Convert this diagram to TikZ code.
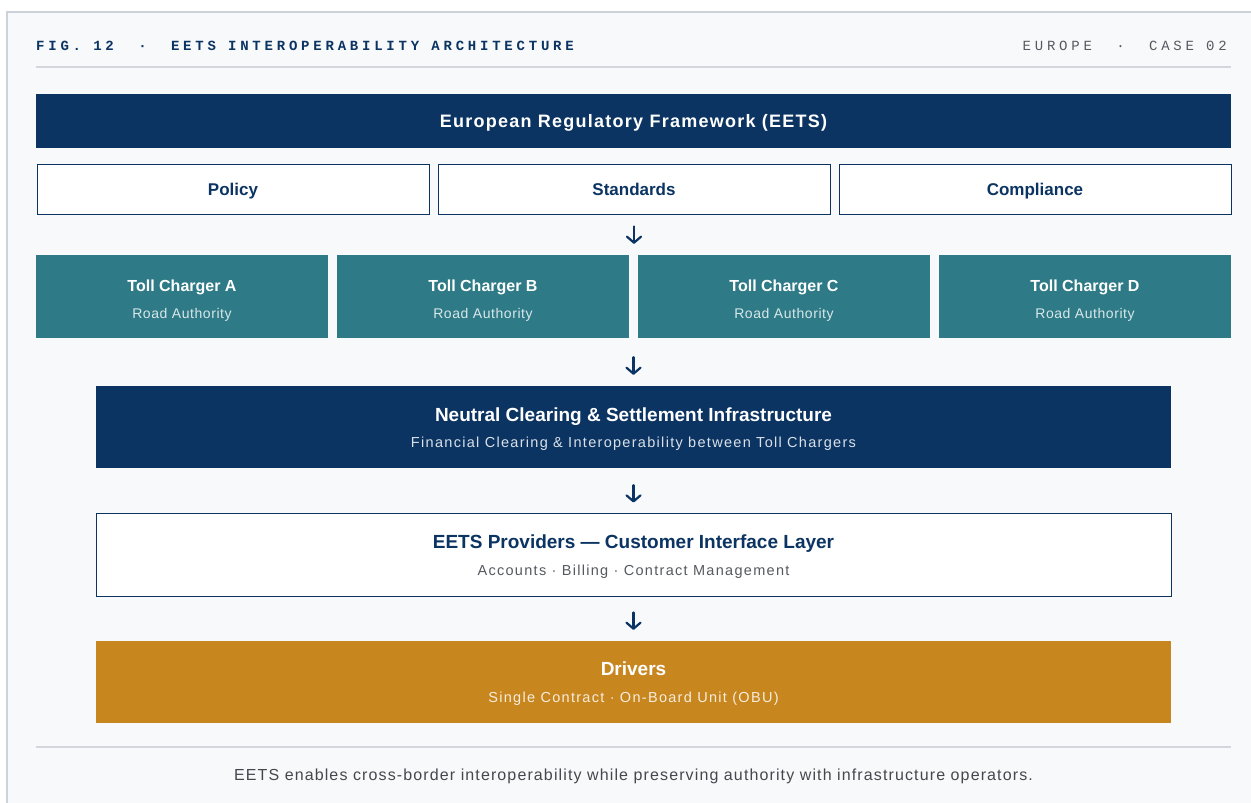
\documentclass[tikz,border=0pt]{standalone}
\usepackage{fontspec}
\setmainfont{Liberation Sans}
\newfontfamily\headmono[LetterSpace=27]{Liberation Mono}
\newfontfamily\spacedsans[LetterSpace=9]{Liberation Sans}
\newfontfamily\roadsans[LetterSpace=4]{Liberation Sans}
\newfontfamily\titlesans[LetterSpace=7]{Liberation Sans}
\newfontfamily\notesans[LetterSpace=7]{Liberation Sans}
\usetikzlibrary{
	arrows.meta,
	calc
}
\usepackage{xcolor}
\definecolor{eetsnavy}{HTML}{0B3462}
\definecolor{eetsteal}{HTML}{2E7B87}
\definecolor{eetsgold}{HTML}{C8861F}
\definecolor{cardbg}{HTML}{F8F9FB}
\definecolor{cardline}{HTML}{CDD1D8}
\definecolor{rulegray}{HTML}{D3D6DC}
\definecolor{textgray}{HTML}{555A60}

\tikzset{
	layer/.style={minimum width=1075pt, minimum height=82pt, inner sep=0pt},
	pillar/.style={draw=eetsnavy, line width=1pt, fill=white, text=eetsnavy,
		minimum width=392pt, minimum height=50pt, inner sep=0pt,
		text height=12.2pt, text depth=0pt,
		font=\bfseries\fontsize{17}{17}\selectfont},
	charger/.style={fill=eetsteal, minimum width=292pt, minimum height=83pt, inner sep=0pt},
	boxtitle/.style={inner sep=0pt, text depth=0pt, text height=13.6pt,
		font=\bfseries\fontsize{19}{19}\selectfont},
	boxsub/.style={inner sep=0pt, text depth=0pt, text height=10.4pt,
		font=\spacedsans\fontsize{14.5}{14.5}\selectfont},
	tctitle/.style={boxtitle, text=white, text height=11.5pt,
		font=\bfseries\fontsize{16}{16}\selectfont},
	tcsub/.style={boxsub, text=white!82!eetsteal, text height=10pt,
		font=\roadsans\fontsize{14}{14}\selectfont},
	flow/.style={draw=eetsnavy, line width=2.2pt, line cap=round,
		-{Straight Barb[length=6pt, width=14pt, line width=2.2pt, round]}},
	hrule/.style={draw=rulegray, line width=1.2pt}
}

\begin{document}
\begin{tikzpicture}[x=1pt, y=-1pt]
	\useasboundingbox (0,0) rectangle (1251,803);
	\fill[white] (0,0) rectangle (1251,803);
	\clip (0,0) rectangle (1251,803);
	% card
	\draw[cardline, fill=cardbg, line width=1.5pt] (7,12) rectangle (1265,815);

	% header
	\node[anchor=west, inner sep=0pt, text=eetsnavy, font=\headmono\bfseries\fontsize{14}{14}\selectfont]
		(figtitle) at (36,46) {FIG. 12~~·~~EETS INTEROPERABILITY ARCHITECTURE};
	\node[anchor=east, inner sep=0pt, text=textgray, font=\headmono\fontsize{14}{14}\selectfont]
		(figcase) at (1227,46) {EUROPE~~·~~CASE 02};
	\draw[hrule] (36,67) -- (1231,67);

	% regulatory framework
	\node[fill=eetsnavy, text=white, minimum width=1195pt, minimum height=54pt, inner sep=0pt,
		text height=12.9pt, text depth=0pt, font=\titlesans\bfseries\fontsize{18}{18}\selectfont]
		(frame) at (633.5,121) {European Regulatory Framework (EETS)};
	\node[pillar] (pol) at (233,189) {Policy};
	\node[pillar] (std) at (634,189) {Standards};
	\node[pillar] (cmp) at (1035,189) {Compliance};

	% toll chargers
	\foreach \name/\x in {A/182, B/483, C/784, D/1085} {
		\node[charger] (tc\name) at (\x,296.5) {};
		\node[tctitle] (tc\name-title) at ($(tc\name.center)+(0,-10.5)$) {Toll Charger \name};
		\node[tcsub] (tc\name-sub) at ($(tc\name.center)+(0,16.5)$) {Road Authority};
	}

	% clearing
	\node[layer, fill=eetsnavy] (clr) at (633.5,427) {};
	\node[boxtitle, text=white] (clr-title) at ($(clr.center)+(0,-12)$)
		{Neutral Clearing \& Settlement Infrastructure};
	\node[boxsub, text=white!85!eetsnavy] (clr-sub) at ($(clr.center)+(0,15)$)
		{Financial Clearing \& Interoperability between Toll Chargers};

	% providers
	\node[layer, fill=white, draw=eetsnavy, line width=1pt, minimum height=83pt] (prov) at (633.5,554.5) {};
	\node[boxtitle, text=eetsnavy] (prov-title) at ($(prov.center)+(0,-12.5)$)
		{EETS Providers — Customer Interface Layer};
	\node[boxsub, text=textgray] (prov-sub) at ($(prov.center)+(0,15.5)$)
		{Accounts · Billing · Contract Management};

	% drivers
	\node[layer, fill=eetsgold] (drv) at (633.5,682) {};
	\node[boxtitle, text=white] (drv-title) at ($(drv.center)+(0,-13)$) {Drivers};
	\node[boxsub, text=white!85!eetsgold] (drv-sub) at ($(drv.center)+(0,15)$)
		{Single Contract · On-Board Unit (OBU)};

	% arrows
	\draw[flow, shorten <=12pt, shorten >=11pt] (std.south) -- (std.south |- tcB.north);
	\draw[flow, shorten <=19pt, shorten >=11pt] (clr.north |- tcB.south) -- (clr.north);
	\draw[flow, shorten <=17pt, shorten >=10pt] (clr.south) -- (prov.north);
	\draw[flow, shorten <=16pt, shorten >=11pt] (prov.south) -- (drv.north);

	% footer
	\draw[hrule] (36,747) -- (1231,747);
	\node[text=textgray!80!black, inner sep=0pt, text height=11.5pt, text depth=0pt,
		font=\notesans\fontsize{16}{16}\selectfont] (note) at (633.5,775)
		{EETS enables cross-border interoperability while preserving authority with infrastructure operators.};
\end{tikzpicture}
\end{document}
